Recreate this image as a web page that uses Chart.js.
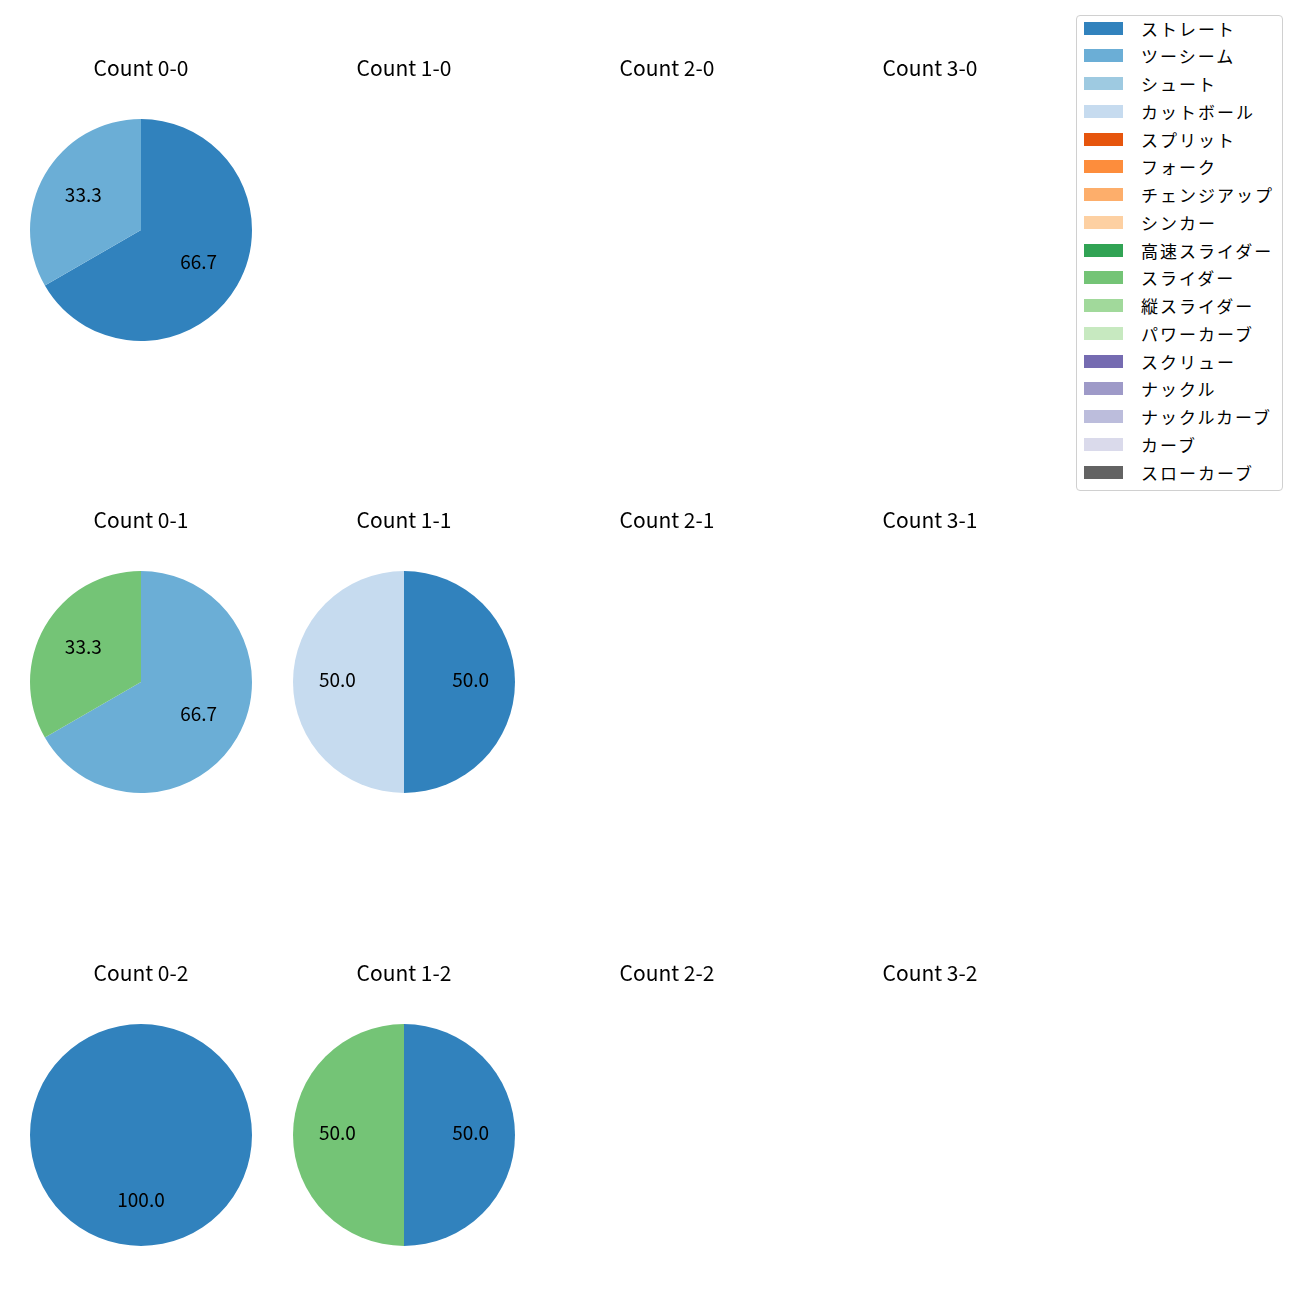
<!DOCTYPE html>
<html>
<head>
<meta charset="utf-8">
<script src="https://cdn.jsdelivr.net/npm/chart.js@4.4.1/dist/chart.umd.min.js"></script>
<style>
    body { margin: 0; background: #fff; }
    #page { position: relative; width: 1300px; height: 1300px; font-family: "Noto Sans CJK JP", sans-serif; }
    .cell { position: absolute; }
    #legend {
        position: absolute; left: 1076px; top: 15px; width: 205px; height: 474px;
        border: 1px solid #d0d0d0; border-radius: 4px; background: #fff;
    }
    .legend-item { position: absolute; left: 7px; height: 20px; display: flex; align-items: center; }
    .legend-patch { width: 39px; height: 13px; margin-right: 18px; }
    .legend-label { font-size: 17px; letter-spacing: 2px; color: #000; white-space: nowrap; }
</style>
</head>
<body>
<div id="page">
    <div id="legend"></div>
</div>
<script>
const pitchTypes = ['ストレート', 'ツーシーム', 'シュート', 'カットボール', 'スプリット', 'フォーク',
    'チェンジアップ', 'シンカー', '高速スライダー', 'スライダー', '縦スライダー', 'パワーカーブ',
    'スクリュー', 'ナックル', 'ナックルカーブ', 'カーブ', 'スローカーブ'];
const pitchColors = ['#3182bd', '#6baed6', '#9ecae1', '#c6dbef', '#e6550d', '#fd8d3c',
    '#fdae6b', '#fdd0a2', '#31a354', '#74c476', '#a1d99b', '#c7e9c0',
    '#756bb1', '#9e9ac8', '#bcbddc', '#dadaeb', '#636363'];

// pitch counts per ball-strike count, in pitchTypes order
const count_0_0 = [2, 1, 0, 0, 0, 0, 0, 0, 0, 0, 0, 0, 0, 0, 0, 0, 0];
const count_1_0 = [0, 0, 0, 0, 0, 0, 0, 0, 0, 0, 0, 0, 0, 0, 0, 0, 0];
const count_2_0 = [0, 0, 0, 0, 0, 0, 0, 0, 0, 0, 0, 0, 0, 0, 0, 0, 0];
const count_3_0 = [0, 0, 0, 0, 0, 0, 0, 0, 0, 0, 0, 0, 0, 0, 0, 0, 0];
const count_0_1 = [0, 2, 0, 0, 0, 0, 0, 0, 0, 1, 0, 0, 0, 0, 0, 0, 0];
const count_1_1 = [1, 0, 0, 1, 0, 0, 0, 0, 0, 0, 0, 0, 0, 0, 0, 0, 0];
const count_2_1 = [0, 0, 0, 0, 0, 0, 0, 0, 0, 0, 0, 0, 0, 0, 0, 0, 0];
const count_3_1 = [0, 0, 0, 0, 0, 0, 0, 0, 0, 0, 0, 0, 0, 0, 0, 0, 0];
const count_0_2 = [1, 0, 0, 0, 0, 0, 0, 0, 0, 0, 0, 0, 0, 0, 0, 0, 0];
const count_1_2 = [1, 0, 0, 0, 0, 0, 0, 0, 0, 1, 0, 0, 0, 0, 0, 0, 0];
const count_2_2 = [0, 0, 0, 0, 0, 0, 0, 0, 0, 0, 0, 0, 0, 0, 0, 0, 0];
const count_3_2 = [0, 0, 0, 0, 0, 0, 0, 0, 0, 0, 0, 0, 0, 0, 0, 0, 0];

const cells = [
    ['Count 0-0', count_0_0], ['Count 1-0', count_1_0], ['Count 2-0', count_2_0], ['Count 3-0', count_3_0],
    ['Count 0-1', count_0_1], ['Count 1-1', count_1_1], ['Count 2-1', count_2_1], ['Count 3-1', count_3_1],
    ['Count 0-2', count_0_2], ['Count 1-2', count_1_2], ['Count 2-2', count_2_2], ['Count 3-2', count_3_2]
];

const FONT = '"Noto Sans CJK JP", sans-serif';
const colX = [141, 404, 667, 930];
const rowY = [230, 682, 1135];
const CW = 263, CH = 400;

// percentage text inside each wedge, at 0.6 of the radius
const pctLabels = {
    id: 'pctLabels',
    afterDatasetsDraw(chart) {
        const ctx = chart.ctx;
        const data = chart.data.datasets[0].data;
        const total = data.reduce((a, b) => a + b, 0);
        if (!total) return;
        ctx.save();
        ctx.font = '19px ' + FONT;
        ctx.fillStyle = '#000';
        ctx.textAlign = 'center';
        ctx.textBaseline = 'middle';
        chart.getDatasetMeta(0).data.forEach((arc, i) => {
            if (!data[i]) return;
            const p = arc.getProps(['x', 'y', 'startAngle', 'endAngle', 'outerRadius'], true);
            const mid = (p.startAngle + p.endAngle) / 2;
            const r = p.outerRadius * 0.6;
            ctx.fillText((data[i] / total * 100).toFixed(1), p.x + Math.cos(mid) * r, p.y + Math.sin(mid) * r - 2);
        });
        ctx.restore();
    }
};

const page = document.getElementById('page');
cells.forEach(([title, values], idx) => {
    const cx = colX[idx % 4], cy = rowY[Math.floor(idx / 4)];
    const div = document.createElement('div');
    div.className = 'cell';
    div.style.left = (cx - CW / 2) + 'px';
    div.style.top = (cy - CH / 2) + 'px';
    div.style.width = CW + 'px';
    div.style.height = CH + 'px';
    const canvas = document.createElement('canvas');
    div.appendChild(canvas);
    page.appendChild(div);

    new Chart(canvas, {
        type: 'pie',
        data: {
            labels: pitchTypes,
            datasets: [{
                data: values,
                backgroundColor: pitchColors,
                borderWidth: 0
            }]
        },
        options: {
            responsive: true,
            maintainAspectRatio: false,
            animation: false,
            layout: { padding: { top: 0, bottom: 89, left: 20, right: 21 } },
            plugins: {
                legend: { display: false },
                tooltip: { enabled: false },
                title: {
                    display: true,
                    text: title,
                    color: '#000',
                    font: { family: FONT, size: 21, weight: 'normal', lineHeight: 1.2 },
                    padding: { top: 25, bottom: 38.8 }
                }
            }
        },
        plugins: [pctLabels]
    });
});

const legend = document.getElementById('legend');
pitchTypes.forEach((name, i) => {
    const item = document.createElement('div');
    item.className = 'legend-item';
    item.style.top = (14 + i * 27.75 - 10 - 2) + 'px';
    item.innerHTML = `<span class="legend-patch" style="background:${pitchColors[i]}"></span><span class="legend-label">${name}</span>`;
    legend.appendChild(item);
});
</script>
</body>
</html>
